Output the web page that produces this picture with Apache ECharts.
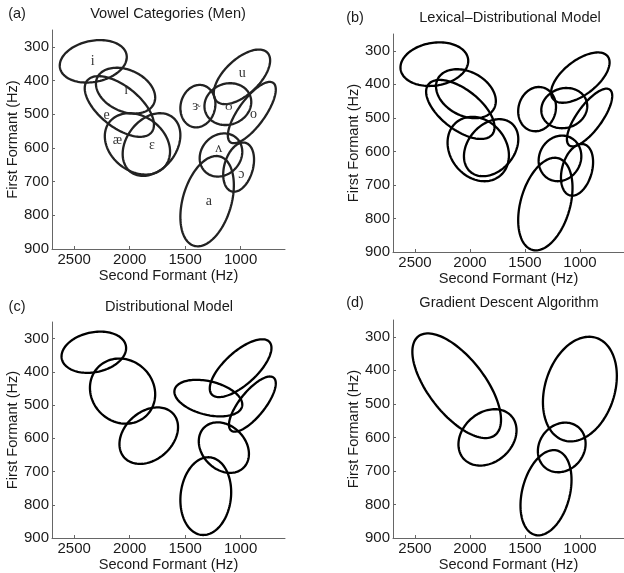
<!DOCTYPE html>
<html><head><meta charset="utf-8">
<script src="https://cdn.jsdelivr.net/npm/echarts@6/dist/echarts.min.js"></script>
<style>html,body{margin:0;padding:0;background:#fff}#c{width:624px;height:573px}</style>
</head><body><div id="c"></div>
<script>
// ---- tick labels ----
const xTicks = [2500, 2000, 1500, 1000];
const yTicks = [300, 400, 500, 600, 700, 800, 900];
const panelLetters = ['(a)', '(b)', '(c)', '(d)'];
const panelTitles = ['Vowel Categories (Men)', 'Lexical\u2013Distributional Model', 'Distributional Model', 'Gradient Descent Algorithm'];

// ---- panel (a): vowel categories ----
const vowels   = ['i', 'ɪ', 'e', 'æ', 'ɛ', 'ɝ', 'ʊ', 'u', 'o', 'ʌ', 'ɔ', 'a'];
const aF2      = [2328, 2037, 2093, 1930, 1803, 1385, 1115, 988, 899, 1177, 1018, 1302];
const aF1      = [343, 430, 477, 588, 590, 476, 470, 389, 495, 621, 657, 758];
const aRangeF2 = [302, 267, 312, 294, 260, 158, 211, 254, 216, 192, 139, 241];
const aRangeF1 = [63, 68, 90, 91, 93, 63, 62, 81, 91, 64, 73, 134];
const aRho     = [0.2, -0.3, -0.6, -0.25, 0.3, 0.1, 0.1, 0.6, 0.75, 0.15, 0.3, 0.35];
const aLabelF2 = [2334, 2032, 2207, 2111, 1800, 1398, 1106, 985, 885, 1196, 994, 1287];
const aLabelF1 = [342, 430, 502, 576, 593, 476, 476, 379, 500, 601, 677, 759];

// ---- panel (b): lexical-distributional model ----
const bF2      = [2324, 2037, 2088, 1925, 1808, 1390, 1143, 997, 913, 1182, 1027, 1315];
const bF1      = [340, 428, 475, 593, 589, 474, 471, 380, 499, 621, 655, 757];
const bRangeF2 = [308, 272, 311, 279, 247, 172, 209, 266, 206, 194, 146, 247];
const bRangeF1 = [65, 73, 88, 96, 85, 66, 60, 75, 86, 68, 77, 138];
const bRho     = [0.15, -0.3, -0.6, -0.2, 0.3, 0.1, 0.1, 0.6, 0.75, 0.1, 0.3, 0.35];

// ---- panel (c): distributional model ----
const cF2      = [2323, 2064, 1828, 1291, 1000, 894, 1151, 1314];
const cF1      = [341, 458, 592, 479, 389, 497, 628, 774];
const cRangeF2 = [291, 294, 264, 306, 278, 211, 226, 229];
const cRangeF1 = [62, 98, 85, 55, 87, 83, 76, 117];
const cRho     = [0.2, -0.1, 0.3, -0.35, 0.7, 0.75, -0.25, 0.1];

// ---- panel (d): gradient descent algorithm ----
const dF2      = [2121, 1841, 1001, 1166, 1309];
const dF1      = [446, 600, 456, 630, 765];
const dRangeF2 = [403, 264, 336, 217, 232];
const dRangeF1 = [156, 84, 156, 74, 127];
const dRho     = [-0.65, 0.25, 0.25, 0.15, 0.3];

const panels = [
  {F2: aF2, F1: aF1, rx: aRangeF2, ry: aRangeF1, rho: aRho, color: '#222'},
  {F2: bF2, F1: bF1, rx: bRangeF2, ry: bRangeF1, rho: bRho, color: '#000'},
  {F2: cF2, F1: cF1, rx: cRangeF2, ry: cRangeF1, rho: cRho, color: '#000'},
  {F2: dF2, F1: dF1, rx: dRangeF2, ry: dRangeF1, rho: dRho, color: '#000'}
];

const grids = [
  {left: 52, top: 30, width: 233, height: 219},
  {left: 393, top: 34, width: 233, height: 218},
  {left: 52, top: 322, width: 233, height: 218},
  {left: 393, top: 320, width: 233, height: 219}
];
const titlePos = [
  {lx: 17, ty: 14, tx: 168}, {lx: 355, ty: 18, tx: 510},
  {lx: 17, ty: 307, tx: 169}, {lx: 355, ty: 303, tx: 509}
];

const FONT = 'Liberation Sans, Arial, Helvetica, sans-serif';
const axisColor = '#666';
const textColor = '#1a1a1a';
const fmt = v => String(v);

const xAxes = grids.map((g, i) => ({
  gridIndex: i, type: 'value', inverse: true, min: 600, max: 2700,
  name: 'Second Formant (Hz)', nameLocation: 'middle', nameGap: 19,
  nameTextStyle: {fontFamily: FONT, fontSize: 14.6, color: textColor},
  axisLine: {show: true, onZero: false, lineStyle: {color: axisColor, width: 1}},
  axisTick: {show: true, inside: true, length: 3, customValues: xTicks, lineStyle: {color: axisColor}},
  axisLabel: {show: true, margin: 3, customValues: xTicks, formatter: fmt, fontFamily: FONT, fontSize: 15, color: textColor},
  splitLine: {show: false}
}));
const yAxes = grids.map((g, i) => ({
  gridIndex: i, type: 'value', inverse: true, min: 250, max: 900,
  name: 'First Formant (Hz)', nameLocation: 'middle', nameGap: 32, nameRotate: 90,
  nameTextStyle: {fontFamily: FONT, fontSize: 14.6, color: textColor},
  axisLine: {show: true, onZero: false, lineStyle: {color: axisColor, width: 1}},
  axisTick: {show: true, inside: true, length: 3, customValues: yTicks, lineStyle: {color: axisColor}},
  axisLabel: {show: true, margin: 3, customValues: yTicks, formatter: fmt, fontFamily: FONT, fontSize: 15, color: textColor},
  splitLine: {show: false}
}));

function makeEllipseSeries(p, i) {
  const data = p.F2.map((v, k) => [v, p.F1[k], p.rx[k], p.ry[k], p.rho[k]]);
  return {
    type: 'custom', xAxisIndex: i, yAxisIndex: i, data: data,
    encode: {x: 0, y: 1}, silent: true, clip: false,
    renderItem: function (params, api) {
      const cx = api.value(0), cy = api.value(1), rx = api.value(2), ry = api.value(3), r = api.value(4);
      const s = Math.sqrt(1 - r * r);
      const pts = [];
      const N = 120;
      for (let k = 0; k < N; k++) {
        const t = 2 * Math.PI * k / N;
        pts.push(api.coord([cx + rx * Math.cos(t), cy + ry * (r * Math.cos(t) + s * Math.sin(t))]));
      }
      return {type: 'polygon', shape: {points: pts}, style: {fill: 'none', stroke: p.color, lineWidth: 2.3}};
    }
  };
}

const series = panels.map(makeEllipseSeries);
series.push({
  type: 'custom', xAxisIndex: 0, yAxisIndex: 0,
  data: aLabelF2.map((v, k) => [v, aLabelF1[k], k]),
  encode: {x: 0, y: 1}, silent: true,
  renderItem: function (params, api) {
    const pt = api.coord([api.value(0), api.value(1)]);
    return {type: 'text', x: pt[0], y: pt[1], style: {
      text: vowels[api.value(2)], fontFamily: 'Liberation Serif, Times New Roman, serif', fontSize: 14,
      fill: '#333', align: 'center', verticalAlign: 'middle'}};
  }
});

const graphics = [];
titlePos.forEach((t, i) => {
  graphics.push({type: 'text', x: t.lx, y: t.ty, style: {text: panelLetters[i], fontFamily: FONT, fontSize: 14.5, fill: textColor, align: 'center', verticalAlign: 'middle'}});
  graphics.push({type: 'text', x: t.tx, y: t.ty, style: {text: panelTitles[i], fontFamily: FONT, fontSize: 14.6, fill: textColor, align: 'center', verticalAlign: 'middle'}});
});

const chart = echarts.init(document.getElementById('c'), null, {renderer: 'canvas'});
chart.setOption({
  animation: false,
  backgroundColor: '#fff',
  grid: grids,
  xAxis: xAxes,
  yAxis: yAxes,
  series: series,
  graphic: graphics
});
</script></body></html>
